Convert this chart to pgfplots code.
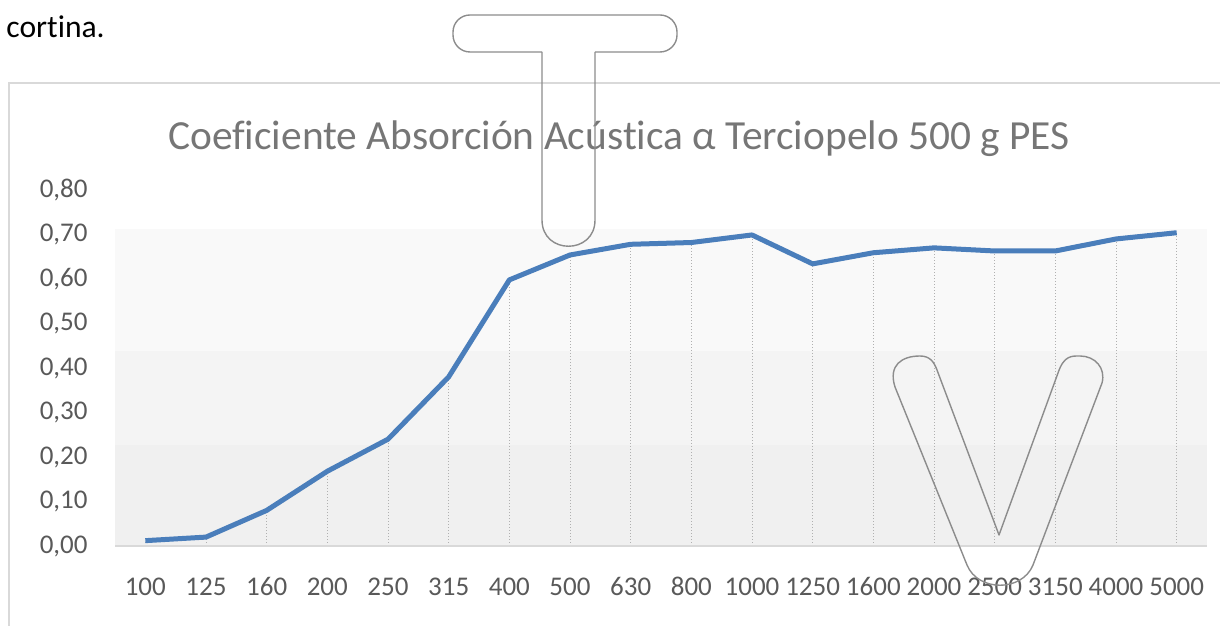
\documentclass[border=0pt]{standalone}
\usepackage{fontspec}
\setmainfont{Carlito}[Ligatures={NoCommon}]
\usepackage{pgfplots}
\pgfplotsset{compat=1.18}
\usepackage{pgfplotstable}
\definecolor{xlblue}{HTML}{4A7EBB}
\definecolor{ticktext}{HTML}{595959}
\definecolor{titletext}{HTML}{767676}
\definecolor{axisgray}{HTML}{D9D9D9}
\definecolor{bordergray}{HTML}{D9D9D9}
\definecolor{dropgray}{HTML}{B0B0B0}
\definecolor{bandA}{HTML}{F0F0F0}
\definecolor{bandB}{HTML}{F4F4F4}
\definecolor{bandC}{HTML}{F9F9F9}
\definecolor{shapegray}{HTML}{8C8C8C}

\pgfplotstableread{
idx val
0 0.012
1 0.020
2 0.080
3 0.168
4 0.240
5 0.380
6 0.598
7 0.654
8 0.678
9 0.682
10 0.699
11 0.634
12 0.659
13 0.670
14 0.663
15 0.663
16 0.690
17 0.704
}\datatable

\begin{document}
\begin{tikzpicture}
\path[use as bounding box] (0,0) rectangle (610pt,313pt);
\begin{scope}[x=0.5pt,y=-0.5pt,shift={(0pt,313pt)}]
  \draw[draw=bordergray, line width=0.75pt] (9,83) rectangle (1240,660);
  \node[anchor=base west, inner sep=0pt, font=\fontsize{15.8}{18}\selectfont] at (6,38) {cortina.};
\end{scope}

\begin{axis}[
  at={(57.5pt,40pt)}, anchor=south west,
  scale only axis, width=546pt, height=178pt,
  xmin=-0.5, xmax=17.5, ymin=0, ymax=0.8,
  axis on top,
  axis x line*=bottom, axis y line*=left,
  y axis line style={draw=none},
  x axis line style={-, draw=axisgray, line width=0.75pt},
  major tick length=0pt,
  /pgf/number format/assume math mode=true,
  ytick={0,0.1,0.2,0.3,0.4,0.5,0.6,0.7,0.8},
  yticklabel style={/pgf/number format/.cd, fixed, fixed zerofill, precision=2, use comma, /tikz/.cd,
    anchor=east, inner sep=0pt, xshift=-13.5pt, font=\fontsize{13.5}{16}\selectfont, text=ticktext},
  xtick={0,...,17},
  xticklabels={100,125,160,200,250,315,400,500,630,800,1000,1250,1600,2000,2500,3150,4000,5000},
  xticklabel style={anchor=base, inner sep=0pt, yshift=-25pt, font=\fontsize{13.5}{16}\selectfont, text=ticktext},
]
\fill[bandA] (axis cs:-0.5,0) rectangle (axis cs:17.5,0.227);
\fill[bandB] (axis cs:-0.5,0.227) rectangle (axis cs:17.5,0.438);
\fill[bandC] (axis cs:-0.5,0.438) rectangle (axis cs:17.5,0.712);
\addplot[ycomb, draw=dropgray, densely dotted, line width=0.5pt, no marks] table[x=idx,y=val]{\datatable};
\addplot[xlblue, line width=2.5pt, line join=round, no marks] table[x=idx,y=val]{\datatable};
\end{axis}

\begin{scope}[x=0.5pt,y=-0.5pt,shift={(0pt,313pt)}]
  \node[anchor=base, inner sep=0pt, font=\fontsize{20.7}{24}\selectfont, text=titletext] at (619,150)
    {Coeficiente Absorción Acústica α Terciopelo 500 g PES};
  % T shape
  \draw[shapegray, line width=0.7pt, rounded corners=8.5pt] (542,52) -- (453,52) -- (453,15) -- (677,15) -- (677,52) -- (595,52);
  \draw[shapegray, line width=0.7pt] (542,52) -- (542,220) .. controls (542,255) and (595,255) .. (595,220) -- (595,52);
  % V shape
  \draw[shapegray, line width=0.7pt, line join=round]
    (937,370) -- (999,535) -- (1058,373)
    .. controls (1064,355) and (1072,356) .. (1080,356)
    .. controls (1095,356) and (1106,368) .. (1102,383)
    -- (1033,565)
    .. controls (1022,592) and (978,592) .. (967,565)
    -- (895,387)
    .. controls (888,365) and (902,356) .. (920,356)
    .. controls (930,356) and (934,362) .. (937,370);
\end{scope}
\end{tikzpicture}
\end{document}
